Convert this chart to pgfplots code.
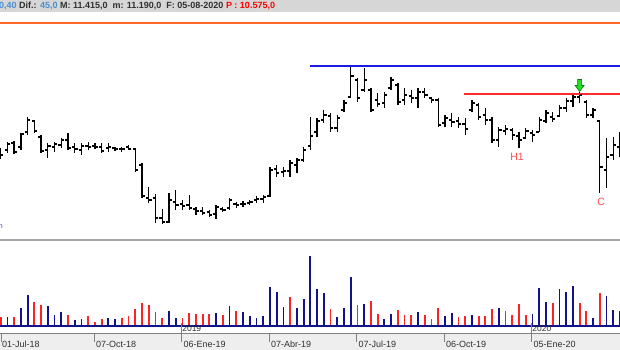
\documentclass[border=0pt]{standalone}
\usepackage{fontspec}
\setmainfont{Liberation Sans}
\usepackage{pgfplots}
\usepackage{pgfplotstable}
\pgfplotsset{compat=1.18}
\definecolor{volblue}{HTML}{12128C}
\definecolor{volred}{HTML}{FF2222}
\definecolor{lineblue}{HTML}{1A1AE6}
\definecolor{linered}{HTML}{FF2A2A}
\definecolor{orangeln}{HTML}{FF6A2A}
\definecolor{hdrgray}{HTML}{D6D6D6}
\definecolor{hdrblue}{HTML}{4A8FD0}
\definecolor{txtdark}{HTML}{303030}
\definecolor{arrowgreen}{HTML}{22DD22}
\definecolor{arrowdark}{HTML}{0A7A0A}
\definecolor{stripgray}{HTML}{EEEEEE}
\definecolor{labred}{HTML}{FF4A4A}

\pgfdeclareplotmark{otick}{\pgfpathmoveto{\pgfqpoint{-2.8pt}{0pt}}\pgfpathlineto{\pgfqpoint{0pt}{0pt}}\pgfusepathqstroke}
\pgfdeclareplotmark{ctick}{\pgfpathmoveto{\pgfqpoint{0pt}{0pt}}\pgfpathlineto{\pgfqpoint{2.8pt}{0pt}}\pgfusepathqstroke}
\pgfdeclareplotmark{darrow}{%
  \pgfpathmoveto{\pgfqpoint{0pt}{0pt}}%
  \pgfpathlineto{\pgfqpoint{4.5pt}{6pt}}%
  \pgfpathlineto{\pgfqpoint{2pt}{6pt}}%
  \pgfpathlineto{\pgfqpoint{2pt}{12pt}}%
  \pgfpathlineto{\pgfqpoint{-2pt}{12pt}}%
  \pgfpathlineto{\pgfqpoint{-2pt}{6pt}}%
  \pgfpathlineto{\pgfqpoint{-4.5pt}{6pt}}%
  \pgfpathclose\pgfusepathqfillstroke}

% weekly OHLC (week index, high, low, open, close)
\pgfplotstableread{
i H L O C
0 202 191 198 195
1 208 197 200 206
2 209 196 207 198
3 217 200 203 216
4 233 215 218 230
5 230 217 229 219
6 215 197 213 199
7 207 192 200 204
8 208 198 203 206
9 212 202 205 210
10 217 200 210 202
11 207 197 203 201
12 207 195 200 204
13 208 200 204 203
14 207 201 204 203
15 207 197 203 199
16 207 198 202 203
17 203 199 202 201
18 203 198 201 201
19 205 200 203 201
20 202 178 201 180
21 187 152 185 154
22 163 147 152 150
23 156 127 152 132
24 141 126 132 128
25 157 127 128 150
26 160 140 148 145
27 150 140 146 144
28 155 140 145 142
29 143 135 141 139
30 143 135 139 137
31 140 133 138 135
32 145 131 136 143
33 143 138 141 140
34 152 140 142 150
35 148 142 146 145
36 149 143 146 146
37 150 145 147 148
38 154 147 150 151
39 155 147 151 153
40 183 153 154 180
41 185 173 181 177
42 183 173 178 179
43 190 173 179 187
44 192 177 185 190
45 203 188 190 200
46 233 200 204 214
47 232 213 218 229
48 240 227 230 235
49 237 218 234 222
50 235 218 222 232
51 250 238 240 247
52 283 252 253 274
53 272 248 270 252
54 282 258 260 270
55 262 238 260 240
56 257 243 250 246
57 258 242 247 255
58 273 260 262 270
59 267 245 265 248
60 262 245 250 255
61 260 247 254 252
62 262 242 252 258
63 262 252 258 255
64 253 247 252 250
65 252 223 250 225
66 235 223 227 232
67 237 223 230 228
68 233 222 229 226
69 232 215 226 221
70 250 238 240 247
71 247 230 245 233
72 242 225 235 230
73 233 207 230 210
74 223 203 210 220
75 225 215 219 221
76 222 210 220 215
77 218 202 214 210
78 222 211 212 219
79 220 208 217 215
80 233 218 218 230
81 240 227 229 237
82 238 228 233 231
83 245 233 234 242
84 252 238 242 249
85 257 243 249 253
86 258 247 253 255
87 250 232 248 235
88 242 232 235 240
89 230 157 229 183
90 212 162 180 193
91 213 190 195 205
92 218 193 203 210
}\ohlc

% weekly volume (week index, volume, d=1 red / 0 blue)
\pgfplotstableread{
i v d
0 9 1
1 9 0
2 9 1
3 18 0
4 31 0
5 24 1
6 21 1
7 20 0
8 11 0
9 14 0
10 11 1
11 6 0
12 7 0
13 10 1
14 4 1
15 7 1
16 8 0
17 7 0
18 8 1
19 10 1
20 17 1
21 23 1
22 21 1
23 14 1
24 8 1
25 15 0
26 8 0
27 8 1
28 13 1
29 12 1
30 12 1
31 12 1
32 13 0
33 11 1
34 20 0
35 15 1
36 14 0
37 10 0
38 8 0
39 10 0
40 39 0
41 34 0
42 19 0
43 29 1
44 18 0
45 27 0
46 70 0
47 37 0
48 33 0
49 17 1
50 9 0
51 18 0
52 49 0
53 21 1
54 22 0
55 25 1
56 12 1
57 7 0
58 12 0
59 16 1
60 11 1
61 11 1
62 14 0
63 11 1
64 7 1
65 18 1
66 10 0
67 13 0
68 9 1
69 10 1
70 11 0
71 10 1
72 10 1
73 17 1
74 18 0
75 15 1
76 11 1
77 22 1
78 11 1
79 12 0
80 38 0
81 24 0
82 23 1
83 37 0
84 34 0
85 40 0
86 23 1
87 15 1
88 8 0
89 33 1
90 30 0
91 16 0
92 15 0
}\vol

\begin{document}
\begin{tikzpicture}
\useasboundingbox (0,0) rectangle (620pt,350pt);
% header strip
\fill[hdrgray] (0,338pt) rectangle (620pt,350pt);
\node[anchor=west, inner sep=0pt, font=\bfseries\fontsize{9}{10}\selectfont] at (-1pt,344pt)
  {\textcolor{hdrblue}{0,40} \textcolor{txtdark}{Dif.:} \textcolor{hdrblue}{45,0} \textcolor{txtdark}{M: 11.415,0 \ m: 11.190,0 \ F: 05-08-2020} \textcolor{red}{P : 10.575,0}};
\draw[orangeln, line width=1.4pt] (0,327pt) -- (620pt,327pt);
% date strip and separator
\fill[stripgray] (0,0) rectangle (620pt,16.5pt);
\draw[gray!70, line width=1.5pt] (0,110pt) -- (620pt,110pt);

% price panel
\begin{axis}[at={(0pt,112pt)}, anchor=south west, scale only axis,
  width=620pt, height=213pt, xmin=-0.1, xmax=92, ymin=112, ymax=325,
  hide axis, clip=false]
\addplot[draw=none, mark=none,
  error bars/.cd, y dir=plus, y explicit, error mark=none,
  error bar style={line width=1.3pt, draw=black}]
  table[x=i, y=L, y error plus expr=\thisrow{H}-\thisrow{L}] {\ohlc};
\addplot[black, only marks, mark=otick, mark options={line width=1.2pt}] table[x=i, y=O] {\ohlc};
\addplot[black, only marks, mark=ctick, mark options={line width=1.2pt}] table[x=i, y=C] {\ohlc};
\addplot[lineblue, line width=1.5pt, mark=none] coordinates {(46,284) (92,284)};
\addplot[linered, line width=1.5pt, mark=none] coordinates {(68.8,256) (92,256)};
\addplot[only marks, mark=darrow, mark options={fill=arrowgreen, draw=arrowdark, line width=0.6pt}] coordinates {(86,258.5)};
\node[text=labred, font=\fontsize{10.5}{12}\selectfont] at (axis cs:76.7,193) {H1};
\node[text=labred, font=\fontsize{10.5}{12}\selectfont] at (axis cs:89.2,148) {C};
\node[text=blue!60!gray, anchor=west, inner sep=0pt, font=\fontsize{7}{8}\selectfont] at (axis cs:-0.3,123) {n};
\end{axis}

% volume panel
\begin{axis}[at={(0pt,22pt)}, anchor=south west, scale only axis,
  width=620pt, height=87pt, xmin=-0.1, xmax=92, ymin=-2, ymax=85,
  axis line style={draw=none}, ytick=\empty,
  xtick={-0.1,13.85,26.85,39.85,52.85,65.85,78.85},
  xticklabels={01-Jul-18,07-Oct-18,06-Ene-19,07-Abr-19,07-Jul-19,06-Oct-19,05-Ene-20},
  major tick length=0pt,
  xticklabel style={anchor=west, inner sep=0pt, xshift=2pt, yshift=-16pt,
    font=\fontsize{9}{10}\selectfont, text=txtdark},
  clip=false]
\addplot[volblue, ycomb, line width=1.8pt, mark=none,
  restrict expr to domain={\thisrow{d}}{0:0}] table[x=i, y=v] {\vol};
\addplot[volred, ycomb, line width=1.8pt, mark=none,
  restrict expr to domain={\thisrow{d}}{1:1}] table[x=i, y=v] {\vol};
\draw[volblue, line width=1.5pt] (axis cs:-0.1,0) -- (axis cs:92,0);
\draw[gray, line width=0.8pt] (axis cs:-0.1,-7.5) -- (axis cs:92,-7.5);
\pgfplotsinvokeforeach{0.05,13.85,39.85,52.85,65.85}{\draw[gray, line width=0.8pt] (axis cs:#1,-7.5) -- (axis cs:#1,-16);}
\pgfplotsinvokeforeach{26.85,78.85}{\draw[gray, line width=0.8pt] (axis cs:#1,3) -- (axis cs:#1,-16);}
\node[anchor=west, inner sep=0pt, text=txtdark, font=\fontsize{8.5}{9}\selectfont] at (axis cs:26.95,-2.8) {2019};
\node[anchor=west, inner sep=0pt, text=txtdark, font=\fontsize{8.5}{9}\selectfont] at (axis cs:78.95,-2.8) {2020};
\end{axis}
\end{tikzpicture}
\end{document}
